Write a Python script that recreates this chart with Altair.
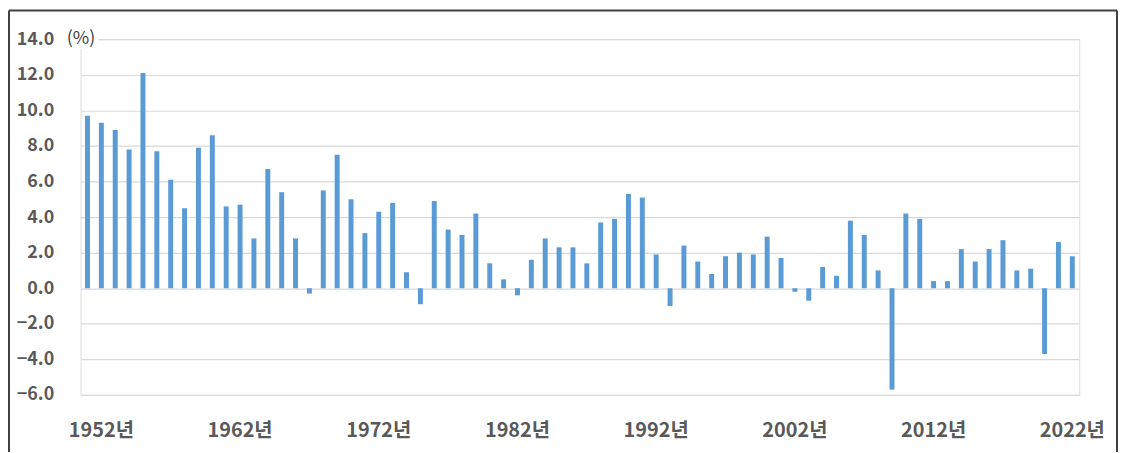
import altair as alt
import pandas as pd

years = list(range(1951, 2023))
growth = [
    9.7, 9.3, 8.9, 7.8, 12.1, 7.7, 6.1, 4.5, 7.9, 8.6,   # 1951-1960
    4.6, 4.7, 2.8, 6.7, 5.4, 2.8, -0.3, 5.5, 7.5, 5.0,   # 1961-1970
    3.1, 4.3, 4.8, 0.9, -0.9, 4.9, 3.3, 3.0, 4.2, 1.4,   # 1971-1980
    0.5, -0.4, 1.6, 2.8, 2.3, 2.3, 1.4, 3.7, 3.9, 5.3,   # 1981-1990
    5.1, 1.9, -1.0, 2.4, 1.5, 0.8, 1.8, 2.0, 1.9, 2.9,   # 1991-2000
    1.7, -0.2, -0.7, 1.2, 0.7, 3.8, 3.0, 1.0, -5.7, 4.2, # 2001-2010
    3.9, 0.4, 0.4, 2.2, 1.5, 2.2, 2.7, 1.0, 1.1, -3.7,   # 2011-2020
    2.6, 1.8,                                            # 2021-2022
]
label_years = [1952, 1962, 1972, 1982, 1992, 2002, 2012, 2022]
y_ticks = [-6, -4, -2, 0, 2, 4, 6, 8, 10, 12, 14]

df = pd.DataFrame({"year": years, "growth": growth})

FONT = "Noto Sans CJK KR"
W, H = 1005, 358

x_enc = alt.X(
    "year:O",
    scale=alt.Scale(paddingInner=0.0, paddingOuter=0.0),
    axis=alt.Axis(
        values=label_years,
        labelExpr="datum.value + '년'",
        labelAngle=0,
        labelFont=FONT,
        labelFontSize=20,
        labelFontWeight="bold",
        labelColor="#595959",
        labelPadding=26,
        ticks=False,
        domain=False,
        grid=False,
        title=None,
    ),
)
y_enc = alt.Y(
    "growth:Q",
    scale=alt.Scale(domain=[-6, 14], nice=False),
    axis=alt.Axis(
        values=y_ticks,
        format=".1f",
        labelFont=FONT,
        labelFontSize=18,
        labelFontWeight="bold",
        labelColor="#595959",
        labelPadding=27,
        ticks=False,
        domain=False,
        grid=True,
        gridColor="#d9d9d9",
        gridWidth=1.2,
        title=None,
    ),
)

bars = alt.Chart(df).mark_bar(color="#5b9bd5", size=5).encode(x=x_enc, y=y_enc)

unit_df = pd.DataFrame({"y": [14], "t": ["(%)"]})
mask = alt.Chart(unit_df).mark_rect(color="white").encode(
    x=alt.value(-2), x2=alt.value(18), y=alt.value(-10), y2=alt.value(10)
)
unit = alt.Chart(unit_df).mark_text(
    align="left", baseline="middle", font=FONT, fontSize=18, color="#404040"
).encode(x=alt.value(-14), y=alt.value(0), text="t:N")

frame_color = "#404040"
top = alt.Chart(unit_df).mark_rule(color=frame_color, strokeWidth=2).encode(
    x=alt.value(-72), x2=alt.value(1043), y=alt.value(-29)
)
left = alt.Chart(unit_df).mark_rule(color=frame_color, strokeWidth=2).encode(
    x=alt.value(-72), y=alt.value(-29), y2=alt.value(420)
)
right = alt.Chart(unit_df).mark_rule(color=frame_color, strokeWidth=2).encode(
    x=alt.value(1043), y=alt.value(-29), y2=alt.value(420)
)

chart = (
    alt.layer(bars, mask, unit, top, left, right)
    .properties(width=W, height=H, autosize=alt.AutoSizeParams(type="none"),
                padding={"left": 73, "top": 30, "right": 40, "bottom": 56})
    .configure_view(stroke=None)
    .configure(background="white")
)

chart.save("out.html", embed_options={"renderer": "svg", "actions": False})
